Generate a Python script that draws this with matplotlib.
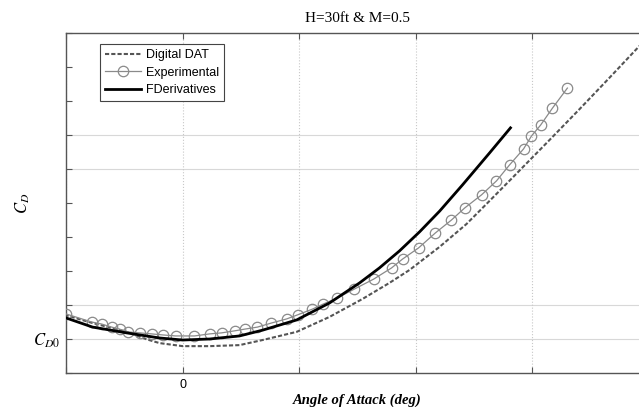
import matplotlib.pyplot as plt

plt.rcParams['font.family'] = ['Liberation Sans', 'DejaVu Sans']
plt.rcParams['mathtext.fontset'] = 'stix'

# Digital DAT estimate (dashed)
dat_alpha = [-5.06, -3.86, -2.40, -1.54, -0.99, 0.0, 1.16, 2.44, 3.43, 4.89, 6.30,
             7.72, 8.87, 9.73, 11.02, 12.17, 13.16, 14.14, 15.73, 17.02, 18.30, 19.55, 20.0]
dat_cd = [0.0271, 0.0247, 0.0221, 0.0199, 0.0188, 0.0179, 0.0179, 0.0182, 0.0197, 0.0221, 0.0265,
          0.0318, 0.0365, 0.0403, 0.0471, 0.0538, 0.0606, 0.0674, 0.0785, 0.0876, 0.0968, 0.1059, 0.1088]

# experimental points (circles)
exp_alpha = [-5.01, -3.90, -3.47, -3.04, -2.70, -2.36, -1.84, -1.33, -0.86, -0.30, 0.51,
             1.16, 1.67, 2.23, 2.66, 3.21, 3.81, 4.46, 4.93, 5.57, 6.04, 6.64, 7.37,
             8.19, 8.96, 9.43, 10.12, 10.84, 11.53, 12.09, 12.82, 13.46, 14.02, 14.62,
             14.96, 15.35, 15.86, 16.50]
exp_cd = [0.0274, 0.0250, 0.0244, 0.0235, 0.0229, 0.0221, 0.0218, 0.0215, 0.0212, 0.0209, 0.0209,
          0.0215, 0.0218, 0.0224, 0.0229, 0.0235, 0.0247, 0.0259, 0.0271, 0.0288, 0.0303, 0.0321, 0.0347,
          0.0376, 0.0409, 0.0435, 0.0468, 0.0512, 0.0550, 0.0585, 0.0624, 0.0665, 0.0712, 0.0759,
          0.0797, 0.0829, 0.0879, 0.0938]

# FDerivatives model (solid)
fd_alpha = [-5.0, -3.86, -2.40, -0.99, 0.0, 1.16, 2.44, 3.43, 4.89, 6.30, 7.59,
            8.44, 9.30, 10.16, 11.02, 12.00, 13.16, 14.06]
fd_cd = [0.0262, 0.0235, 0.0218, 0.0203, 0.0197, 0.0200, 0.0209, 0.0226, 0.0256, 0.0306, 0.0365,
         0.0409, 0.0459, 0.0515, 0.0576, 0.0653, 0.0747, 0.0821]

x_ticks = [-5, 0, 5, 10, 15, 20]
x_ticklabels = ['', '0', '', '', '', '']
y_ticks = [0.01, 0.02, 0.03, 0.04, 0.05, 0.06, 0.07, 0.08, 0.09, 0.10, 0.11]
y_ticklabels = ['', '$C_{D0}$', '', '', '', '', '', '', '', '', '']
h_grid = [0.02, 0.03, 0.07, 0.08]

fig = plt.figure(figsize=(6.39, 4.07), dpi=100)
ax = fig.add_axes([66 / 639, 34 / 407, 583 / 639, 340 / 407])

for g in h_grid:
    ax.axhline(g, color='#d8d8d8', lw=0.8, zorder=0)
ax.grid(axis='x', ls=':', color='#c8c8c8', lw=0.8)

ax.plot(dat_alpha, dat_cd, color='#555555', lw=1.5, ls=(0, (2, 1)), label='Digital DAT', zorder=3)
ax.plot(exp_alpha, exp_cd, color='#8a8a8a', lw=0.9, marker='o', ms=7.5, mfc='none',
        mec='#8a8a8a', mew=0.9, label='Experimental', zorder=4)
ax.plot(fd_alpha, fd_cd, color='black', lw=2, label='FDerivatives', zorder=5)

ax.set_xlim(-5, 20)
ax.set_ylim(0.01, 0.11)
ax.set_xticks(x_ticks)
ax.set_xticklabels(x_ticklabels, fontsize=9)
ax.set_yticks(y_ticks)
ax.set_yticklabels(y_ticklabels, fontsize=12)
ax.tick_params(direction='in', length=4, top=True, right=True, color='#555555', pad=4)
for s in ax.spines.values():
    s.set_color('#555555')
    s.set_linewidth(1)

ax.set_title('H=30ft & M=0.5', family='Liberation Serif', fontsize=11, pad=8)
ax.set_xlabel('Angle of Attack (deg)', family='Liberation Serif', fontsize=10.5,
              fontweight='bold', style='italic', labelpad=2)
ax.set_ylabel('$C_D$', fontsize=12)
ax.yaxis.set_label_coords(-0.058, 0.5)

leg = ax.legend(loc='upper left', bbox_to_anchor=(0.058, 0.968), fontsize=9,
                fancybox=False, framealpha=1, edgecolor='#444444', handlelength=2.9,
                borderpad=0.4, labelspacing=0.45, handletextpad=0.4, borderaxespad=0)
leg.get_frame().set_linewidth(0.8)

fig.savefig('out.png', dpi=100)
